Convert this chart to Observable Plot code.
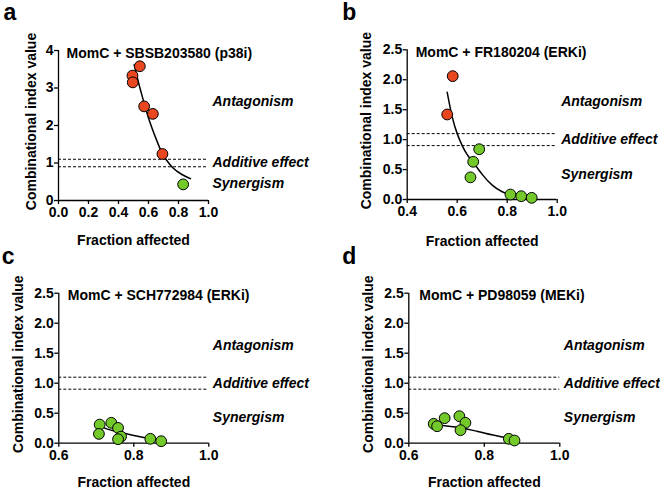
<!DOCTYPE html>
<html>
<head>
<meta charset="utf-8">
<script src="https://cdn.jsdelivr.net/npm/d3@7"></script>
<script src="https://cdn.jsdelivr.net/npm/@observablehq/plot@0.6"></script>
<style>
  html, body { margin: 0; padding: 0; background: #fff; }
  #wrap { position: relative; width: 660px; height: 489px; overflow: hidden; background: #fff; }
  #wrap svg { position: absolute; }
</style>
</head>
<body>
<div id="wrap"></div>
<script>
// ---------- data ----------
const letters = ["a", "b", "c", "d"];
const titles = [
  "MomC + SBSB203580 (p38i)",
  "MomC + FR180204 (ERKi)",
  "MomC + SCH772984 (ERKi)",
  "MomC + PD98059 (MEKi)"
];
const regionNames = ["Antagonism", "Additive effect", "Synergism"];
const additiveBand = [0.9, 1.1];
const xTitle = "Fraction affected";
const yTitle = "Combinational index value";

const xDomains = [[0, 1], [0.4, 1], [0.6, 1], [0.6, 1]];
const yDomains = [[0, 4], [0, 2.5], [0, 2.5], [0, 2.5]];
const xTicksA = [0, 0.2, 0.4, 0.6, 0.8, 1.0];
const xTicksB = [0.4, 0.6, 0.8, 1.0];
const xTicksCD = [0.6, 0.8, 1.0];
const yTicksA = [0, 1, 2, 3, 4];
const yTicksBCD = [0, 0.5, 1.0, 1.5, 2.0, 2.5];

// measured points (fraction affected, CI)
const faA = [0.542, 0.493, 0.495, 0.571, 0.629, 0.693, 0.831];
const ciA = [3.58, 3.33, 3.15, 2.51, 2.31, 1.24, 0.43];
const faB = [0.582, 0.560, 0.688, 0.664, 0.653, 0.813, 0.856, 0.898];
const ciB = [2.06, 1.42, 0.84, 0.63, 0.37, 0.083, 0.055, 0.028];
const faC = [0.709, 0.707, 0.740, 0.758, 0.766, 0.758, 0.844, 0.873];
const ciC = [0.31, 0.155, 0.34, 0.255, 0.11, 0.067, 0.073, 0.033];
const faD = [0.666, 0.675, 0.695, 0.734, 0.750, 0.737, 0.865, 0.880];
const ciD = [0.323, 0.283, 0.417, 0.45, 0.34, 0.217, 0.073, 0.045];

// fitted curves
const curveFaA = [0.505, 0.53, 0.56, 0.60, 0.65, 0.69, 0.72, 0.76, 0.82, 0.88];
const curveCiA = [3.62, 3.20, 2.75, 2.20, 1.65, 1.27, 1.08, 0.88, 0.70, 0.58];
const curveFaB = [0.56, 0.58, 0.60, 0.62, 0.64, 0.664, 0.70, 0.74, 0.78, 0.82, 0.86, 0.893];
const curveCiB = [1.79, 1.38, 1.10, 0.90, 0.75, 0.62, 0.42, 0.24, 0.13, 0.07, 0.03, 0.01];
const curveFaC = [0.708, 0.73, 0.756, 0.80, 0.844, 0.872];
const curveCiC = [0.29, 0.235, 0.19, 0.13, 0.078, 0.045];
const curveFaD = [0.666, 0.70, 0.74, 0.78, 0.82, 0.86, 0.883];
const curveCiD = [0.31, 0.285, 0.255, 0.20, 0.14, 0.085, 0.055];

// ---------- styling / layout ----------
const RED = "#e8471f";
const GREEN = "#74c92a";
const FONT = "Arial, 'Liberation Sans', Helvetica, sans-serif";

const layout = [
  {left: 0,   top: 0,   w: 330, h: 245, ml: 58,   mt: 50,   fw: 150, fh: 150,   titleDx: 8,  letterDx: -55, letterDy: -31, yTitleDx: -23, xTitleDy: 44, regionY: [2.65, 1.0, 0.45], yFmt: "d"},
  {left: 330, top: 0,   w: 330, h: 245, ml: 76.7, mt: 49.3, fw: 150, fh: 149.7, titleDx: 8.5, letterDx: -65, letterDy: -29.5, yTitleDx: -36, xTitleDy: 46, regionY: [1.63, 1.0, 0.42], yFmt: ".1f"},
  {left: 0,   top: 245, w: 330, h: 244, ml: 58.3, mt: 47.7, fw: 150, fh: 150,   titleDx: 9,  letterDx: -57, letterDy: -29.4, yTitleDx: -36, xTitleDy: 43.3, regionY: [1.63, 1.0, 0.425], yFmt: ".1f"},
  {left: 330, top: 245, w: 330, h: 244, ml: 78.3, mt: 47.7, fw: 151, fh: 150,   titleDx: 10.5, letterDx: -66.6, letterDy: -29.4, yTitleDx: -36, xTitleDy: 43.3, regionY: [1.63, 1.0, 0.425], yFmt: ".1f"}
];

const series = [
  {fa: faA, ci: ciA, cfa: curveFaA, cci: curveCiA, xTicks: xTicksA, yTicks: yTicksA},
  {fa: faB, ci: ciB, cfa: curveFaB, cci: curveCiB, xTicks: xTicksB, yTicks: yTicksBCD},
  {fa: faC, ci: ciC, cfa: curveFaC, cci: curveCiC, xTicks: xTicksCD, yTicks: yTicksBCD},
  {fa: faD, ci: ciD, cfa: curveFaD, cci: curveCiD, xTicks: xTicksCD, yTicks: yTicksBCD}
];

const wrap = document.getElementById("wrap");

series.forEach((s, i) => {
  const L = layout[i];
  const xd = xDomains[i], yd = yDomains[i];
  const pts = s.fa.map((f, k) => ({fa: f, ci: s.ci[k], effect: s.ci[k] > 1 ? "Antagonism" : "Synergism"}));
  const curve = s.cfa.map((f, k) => ({fa: f, ci: s.cci[k]}));
  const txt = {fontFamily: FONT, fontSize: 14, fontWeight: "bold", fill: "black", text: d => d};

  const svg = Plot.plot({
    width: L.w,
    height: L.h,
    marginLeft: L.ml,
    marginTop: L.mt,
    marginRight: L.w - L.ml - L.fw,
    marginBottom: L.h - L.mt - L.fh,
    style: {background: "transparent", overflow: "visible", fontFamily: FONT, fontSize: "14px", color: "black"},
    x: {domain: xd},
    y: {domain: yd},
    color: {domain: ["Antagonism", "Synergism"], range: [RED, GREEN]},
    marks: [
      Plot.ruleY(additiveBand, {stroke: "black", strokeWidth: 1, strokeDasharray: "3,2"}),
      Plot.ruleY([yd[0]], {stroke: "black", strokeWidth: 1.3}),
      Plot.ruleX([xd[0]], {stroke: "black", strokeWidth: 1.3}),
      Plot.axisX({ticks: s.xTicks, tickFormat: d3.format(".1f"), tickSize: 4, tickPadding: 2.5, label: null,
                  fontFamily: FONT, fontSize: 14, fontWeight: "bold", strokeWidth: 1.3}),
      Plot.axisY({ticks: s.yTicks, tickFormat: d3.format(L.yFmt), tickSize: 4, tickPadding: 1, label: null,
                  fontFamily: FONT, fontSize: 14, fontWeight: "bold", strokeWidth: 1.3}),
      Plot.line(curve, {x: "fa", y: "ci", curve: "natural", stroke: "black", strokeWidth: 1.5}),
      Plot.dot(pts, {x: "fa", y: "ci", r: 5.4, fill: "effect", stroke: "black", strokeWidth: 1}),
      Plot.text([titles[i]], {...txt, frameAnchor: "top-left", dx: L.titleDx, dy: 7, textAnchor: "start", lineAnchor: "bottom"}),
      Plot.text(regionNames, {...txt, x: () => xd[1], y: (d, k) => L.regionY[k], dx: 4, textAnchor: "start",
                               lineAnchor: "middle", fontStyle: "italic"}),
      Plot.text([xTitle], {...txt, frameAnchor: "bottom", dy: L.xTitleDy, textAnchor: "middle", lineAnchor: "bottom"}),
      Plot.text([yTitle], {...txt, frameAnchor: "left", rotate: -90, dx: L.yTitleDx, dy: -4, textAnchor: "middle", lineAnchor: "bottom"}),
      Plot.text([letters[i]], {...txt, fontSize: 23, frameAnchor: "top-left", dx: L.letterDx, dy: L.letterDy,
                               textAnchor: "start", lineAnchor: "bottom"})
    ]
  });
  svg.style.left = L.left + "px";
  svg.style.top = L.top + "px";
  wrap.appendChild(svg);
});
</script>
</body>
</html>
